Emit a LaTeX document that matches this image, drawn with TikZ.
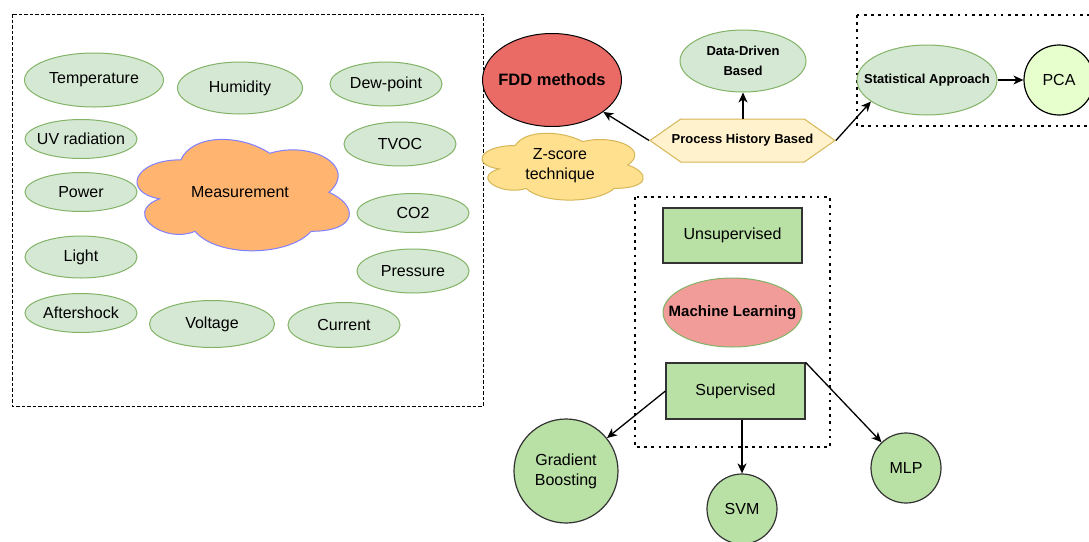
\documentclass[tikz,border=0pt]{standalone}
\usepackage{fontspec}
\setmainfont{Liberation Sans}
\usetikzlibrary{shapes.geometric,shapes.symbols,arrows.meta}
\definecolor{gfill}{HTML}{D5E8D4}
\definecolor{gline}{HTML}{82B366}
\definecolor{fddred}{HTML}{EA6B66}
\definecolor{zfill}{HTML}{FFE08F}
\definecolor{yline}{HTML}{D6B656}
\definecolor{hexfill}{HTML}{FFF2CC}
\definecolor{measfill}{HTML}{FFB570}
\definecolor{measline}{HTML}{7F7FFF}
\definecolor{pcafill}{HTML}{E6FFCC}
\definecolor{boxfill}{HTML}{B9E0A5}
\definecolor{mlfill}{HTML}{F19C99}
\definecolor{darkline}{HTML}{333333}
\newcommand\zw[1]{\makebox[0pt]{#1}}
\newcommand\twol[2]{\makebox[0pt]{\begin{tabular}{@{}c@{}}#1\\#2\end{tabular}}}
\newcommand\drawcloud[5]{%
\begin{scope}[shift={(#1,#2)}, x=#3pt, y=-#4pt]
\path[#5] (0.25,0.25) .. controls (0.05,0.25) and (0,0.5) .. (0.16,0.55)
 .. controls (0,0.66) and (0.18,0.9) .. (0.31,0.8)
 .. controls (0.4,1) and (0.7,1) .. (0.8,0.8)
 .. controls (1,0.8) and (1,0.6) .. (0.875,0.5)
 .. controls (1,0.3) and (0.8,0.1) .. (0.625,0.2)
 .. controls (0.5,0.05) and (0.3,0.05) .. (0.25,0.25) -- cycle;
\end{scope}}
\tikzset{
  reg/.style={font=\fontsize{16}{20}\selectfont},
  smb/.style={font=\fontsize{13}{20}\selectfont\bfseries},
  gell/.style={ellipse, draw=gline, fill=gfill, line width=1, inner sep=0, reg},
  gcirc/.style={circle, draw=darkline, fill=boxfill, line width=1.2, inner sep=0, reg},
  gbox/.style={rectangle, draw=darkline, fill=boxfill, line width=1.2, inner sep=0, reg},
  dashbox/.style={draw=black, line width=0.9, dash pattern=on 3.5pt off 2pt},
  dotbox/.style={draw=black, line width=2.7, dash pattern=on 2.7pt off 4.5pt},
  arr/.style={draw=black, line width=1.3, -{Stealth[length=10pt,width=9pt,inset=3pt]}}
}
\begin{document}
\begin{tikzpicture}[x=1pt,y=-1pt]
\useasboundingbox (0,0) rectangle (1089,541);
\fill[white] (0,0) rectangle (1089,541);
% boxes
\draw[dashbox] (12,14) rectangle (483,406);
\draw[dotbox] (857,15) rectangle (1100,126);
\draw[dotbox] (635,197) rectangle (830,447);
% measurement group
\node[gell, minimum width=139, minimum height=54] (temp) at (94,80) {\zw{Temperature}};
\node[gell, minimum width=125, minimum height=52] (hum) at (240,88) {\zw{Humidity}};
\node[gell, minimum width=112, minimum height=44] (dew) at (386,84) {\zw{Dew-point}};
\node[gell, minimum width=112, minimum height=39] (uv) at (81,139) {\zw{UV radiation}};
\node[gell, minimum width=112, minimum height=44] (tvoc) at (400,144) {\zw{TVOC}};
\node[gell, minimum width=112, minimum height=39] (power) at (81,192) {\zw{Power}};
\drawcloud{121.6}{127.3}{237}{130}{draw=measline, fill=measfill, line width=1}
\node[reg] (meas) at (240,192) {Measurement};
\node[gell, minimum width=112, minimum height=39] (co2) at (413,213) {\zw{CO2}};
\node[gell, minimum width=112, minimum height=42] (light) at (81,257) {\zw{Light}};
\node[gell, minimum width=112, minimum height=44] (press) at (413,271) {\zw{Pressure}};
\node[gell, minimum width=112, minimum height=39] (after) at (81,313) {\zw{Aftershock}};
\node[gell, minimum width=125, minimum height=47] (volt) at (212,324) {\zw{Voltage}};
\node[gell, minimum width=112, minimum height=45] (curr) at (344,325) {\zw{Current}};
% FDD part
\node[ellipse, draw=black, fill=fddred, line width=1, inner sep=0, minimum width=139, minimum height=93, font=\fontsize{16.5}{20}\selectfont\bfseries] (fdd) at (552,80) {\zw{FDD methods}};
\drawcloud{470.3}{126}{180}{78}{draw=yline, fill=zfill, line width=1}
\node[reg, align=center, inner sep=0] (zs) at (560,166) {Z-score\\technique};
\node[gell, smb, minimum width=126, minimum height=62] (dd) at (743,61) {\twol{Data-Driven}{Based}};
\node[signal, signal to=east and west, signal pointer angle=70, draw=yline, fill=hexfill, line width=1, inner sep=0, minimum width=185, minimum height=43, smb] (phb) at (742.5,140.5) {\zw{Process History Based}};
\node[gell, smb, minimum width=140, minimum height=70] (stat) at (927,80) {\zw{Statistical Approach}};
\node[circle, draw=black, fill=pcafill, line width=1.2, inner sep=0, minimum size=70, reg] (pca) at (1059,80) {PCA};
% ML part
\node[gbox, minimum width=139, minimum height=55] (unsup) at (732.5,235.5) {Unsupervised};
\node[ellipse, draw=gline, fill=mlfill, line width=1, inner sep=0, minimum width=139, minimum height=69, font=\fontsize{15}{20}\selectfont\bfseries] (ml) at (732.5,312.5) {\zw{Machine Learning}};
\node[gbox, minimum width=139, minimum height=56] (sup) at (735.5,391) {Supervised};
\node[gcirc, minimum size=104] (gb) at (566,471) {\twol{Gradient}{Boosting}};
\node[gcirc, minimum size=70] (svm) at (742,509) {SVM};
\node[gcirc, minimum size=70] (mlp) at (906,468) {MLP};
% arrows
\draw[arr] (phb.west) -- (fdd);
\draw[arr] (phb.north -| dd.south) -- (dd.south);
\draw[arr] (phb.east) -- (stat.201);
\draw[arr] (stat.east) -- (pca.west);
\draw[arr] (sup.west) -- (gb);
\draw[arr] (svm.north |- sup.south) -- (svm.north);
\draw[arr] (sup.north east) -- (mlp);
\end{tikzpicture}
\end{document}
